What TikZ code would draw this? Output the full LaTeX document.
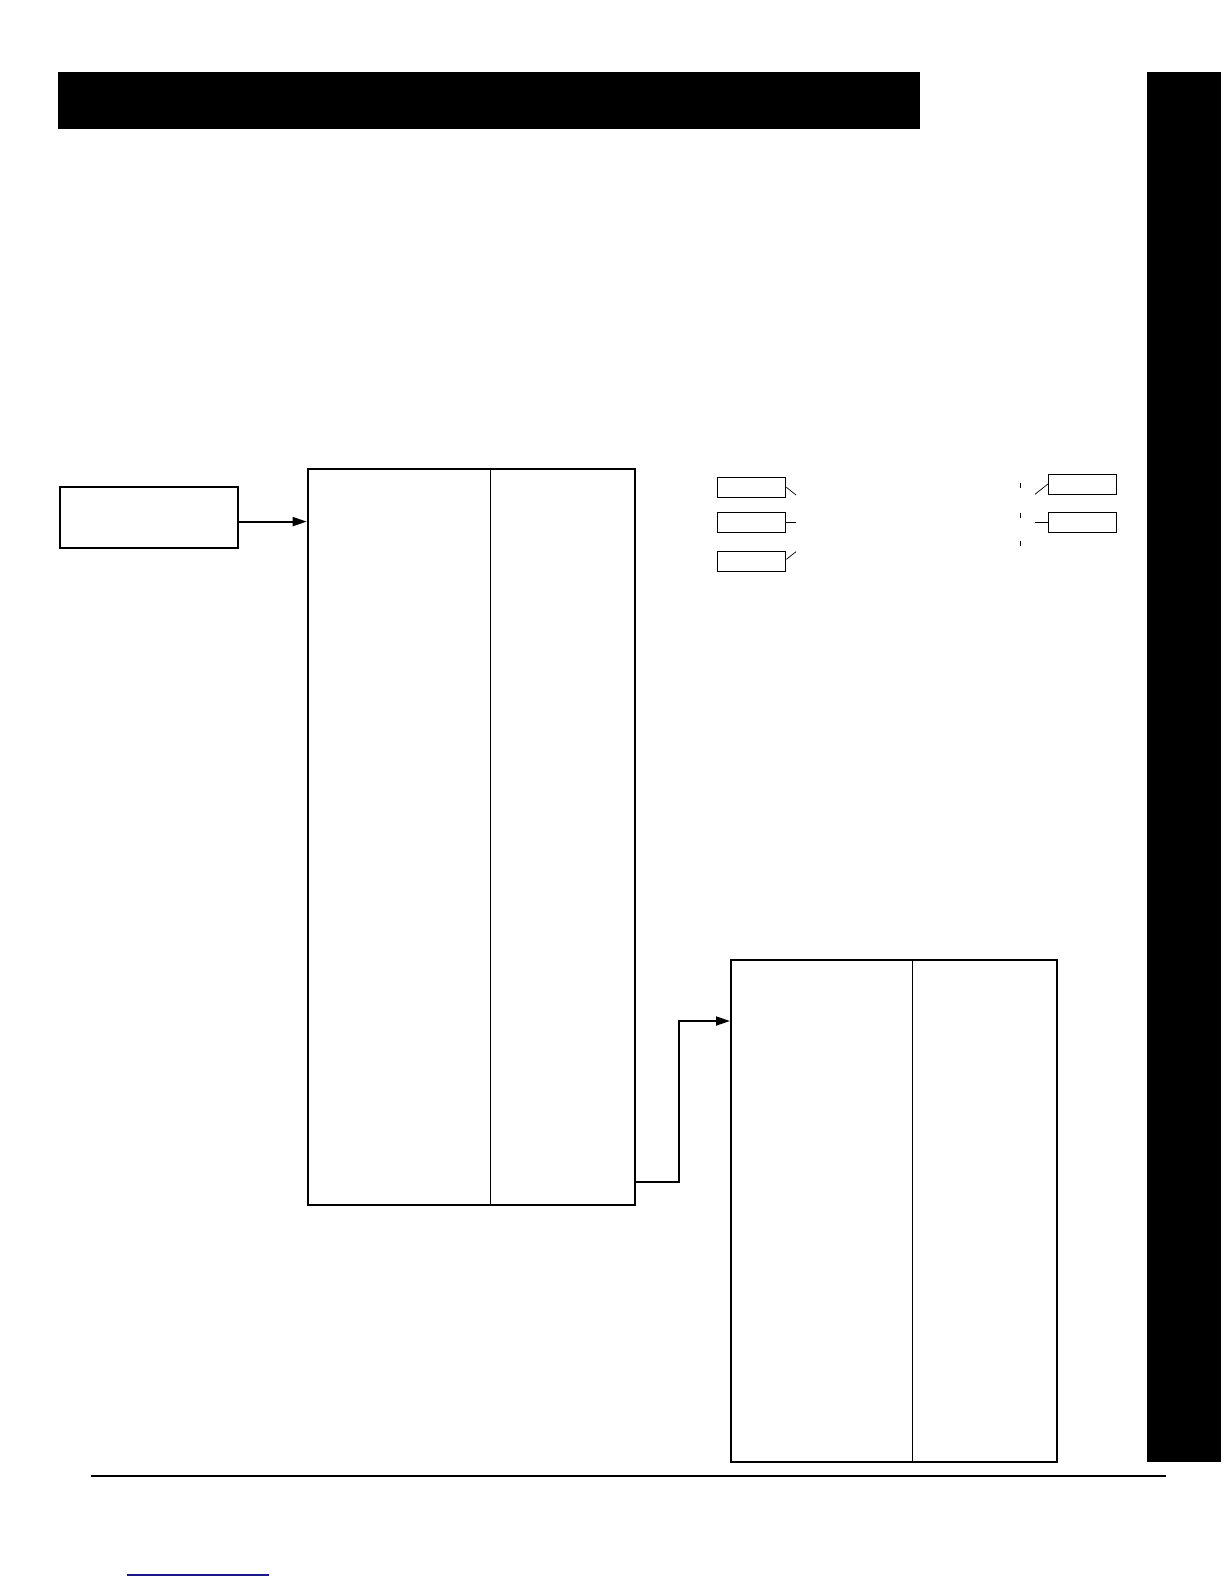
\documentclass[tikz,border=0pt]{standalone}
\usetikzlibrary{arrows.meta}
\begin{document}
\begin{tikzpicture}[x=1pt,y=-1pt,
  bar/.style={fill=black,draw=none,inner sep=0pt,anchor=north west},
  frame/.style={draw=black,line width=1.8pt,inner sep=0pt,anchor=north west,fill=white},
  smallbox/.style={draw=black,line width=1.1pt,inner sep=0pt,anchor=north west,minimum width=68pt,minimum height=19.5pt},
  divider/.style={draw=black,line width=0.9pt},
  leader/.style={draw=black,line width=0.7pt},
  tick/.style={draw=black,line width=1pt},
  arr/.style={draw=black,line width=1.8pt,-{Triangle[length=14pt,width=9pt]}}]
\useasboundingbox (0,0) rectangle (1224,1584);
% black bars
\node[bar,minimum width=862pt,minimum height=57pt] (topbar) at (58,72) {};
\node[bar,minimum width=74pt,minimum height=1390pt] (sidebar) at (1147,72) {};
% source box
\node[frame,minimum width=178pt,minimum height=61pt] (src) at (58.7,485.7) {};
% big boxes
\node[frame,minimum width=327pt,minimum height=736pt] (box1) at (306.7,467.7) {};
\node[frame,minimum width=326pt,minimum height=502pt] (box2) at (730,959) {};
\draw[divider] (box1.north -| 490.7,0) -- (box1.south -| 490.7,0);
\draw[divider] (box2.north -| 912.7,0) -- (box2.south -| 912.7,0);
% connectors
\draw[arr] ([yshift=-4.5pt]src.east) -- ([yshift=-4.5pt]src.east -| box1.west);
\coordinate (o1) at (box1.east |- 0,1182);
\coordinate (i2) at (box2.west |- 0,1021);
\coordinate (bend) at (679,1182);
\draw[arr] (o1) -- (bend) |- (i2);
% small boxes, left group
\node[smallbox] (L1) at (717.3,477.3) {};
\node[smallbox] (L2) at (717.3,512.3) {};
\node[smallbox] (L3) at (717.3,551.3) {};
\coordinate (L1e) at (796,495);
\coordinate (L2e) at (796,521.7);
\coordinate (L3e) at (796,551.7);
\draw[leader] (L1.east |- 0,487.3) -- (L1e);
\draw[leader] (L2.east) -- (L2.east -| L2e);
\draw[leader] (L3.east |- 0,559.3) -- (L3e);
% small boxes, right group
\node[smallbox] (R1) at (1048.3,474.3) {};
\node[smallbox] (R2) at (1048.3,512.3) {};
\coordinate (R1s) at (1035,494.3);
\coordinate (R2s) at (1035,521.3);
\draw[leader] (R1s) -- (R1.west |- 0,483.7);
\draw[leader] (R2.west -| R2s) -- (R2.west);
% ticks
\coordinate (t1) at (1020.3,482.7);
\coordinate (t2) at (1020.3,512.7);
\coordinate (t3) at (1020.3,540.7);
\draw[tick] (t1) -- ++(0,5);
\draw[tick] (t2) -- ++(0,5);
\draw[tick] (t3) -- ++(0,5);
% bottom rule and blue line
\coordinate (r1) at (91,1476);
\coordinate (r2) at (1166,1476);
\draw[draw=black,line width=2.3pt] (r1) -- (r2);
\definecolor{linkblue}{RGB}{25,25,140}
\coordinate (b1) at (126.7,1575);
\coordinate (b2) at (269,1575);
\draw[draw=linkblue,line width=1.1pt] (b1) -- (b2);
\end{tikzpicture}
\end{document}
